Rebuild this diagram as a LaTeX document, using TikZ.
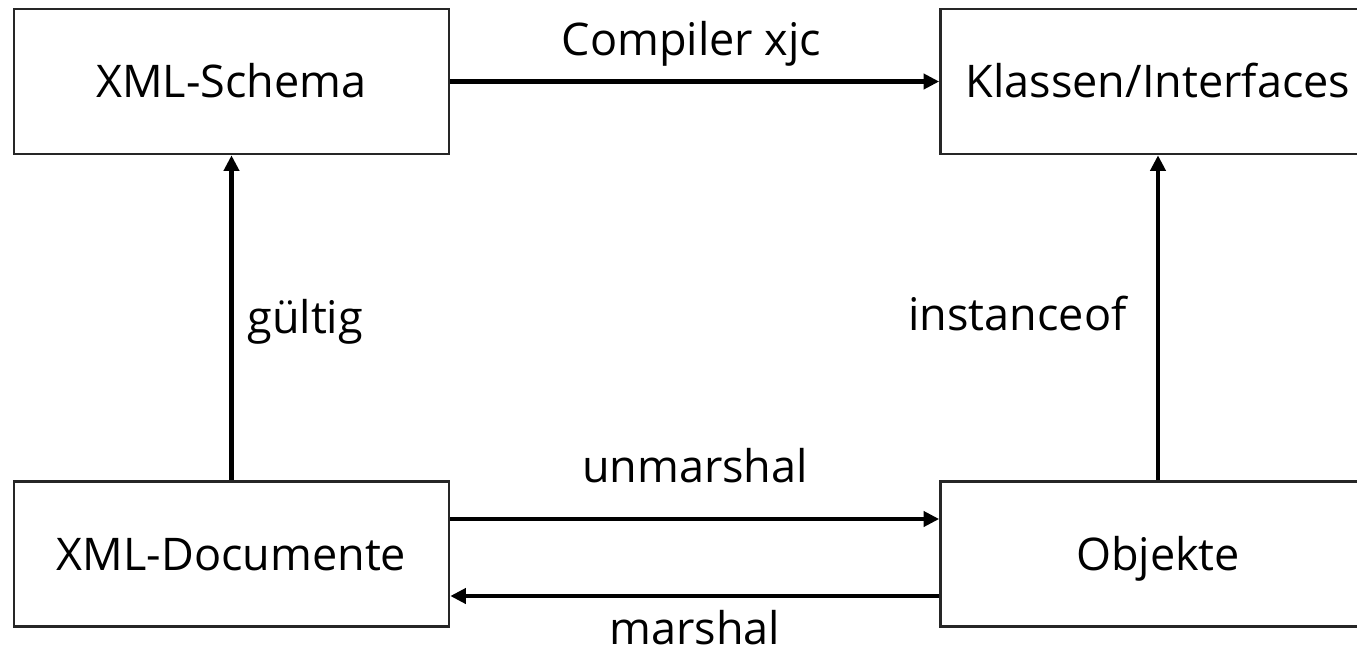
\documentclass[tikz,border=0pt]{standalone}
\usepackage{fontspec}
\setmainfont{Open Sans}
\usetikzlibrary{arrows.meta}
\begin{document}
\begin{tikzpicture}[x=0.5pt,y=-0.5pt,
  box/.style={draw=black!85,line width=1.3pt,rectangle,inner sep=0pt,
    minimum width=217.5pt,minimum height=72.5pt,
    font=\fontsize{22.5}{27}\selectfont,text height=16pt,text depth=0pt},
  lbl/.style={inner sep=0pt,anchor=base,font=\fontsize{22.5}{27}\selectfont},
  conn/.style={line width=2.4pt,-{Triangle[length=7.8pt,width=7.5pt]}}]
\clip (0,0) rectangle (1357,654);
\fill[white] (0,0) rectangle (1357,654);
\node[box] (schema) at (231.5,81.5) {XML-Schema};
\node[box] (klassen) at (1158,81.5) {Klassen/Interfaces};
\node[box] (docs) at (231.5,554) {XML-Documente};
\node[box] (obj) at (1158,554) {Objekte};
\draw[conn] (schema.east) -- (klassen.west);
\draw[conn] (docs.north) -- (schema.south);
\draw[conn] (obj.north) -- (klassen.south);
\draw[conn] ([yshift=17.5pt]docs.east) -- ([yshift=17.5pt]obj.west);
\draw[conn] ([yshift=-21pt]obj.west) -- ([yshift=-21pt]docs.east);
\node[lbl] (lc) at (691.5,55) {Compiler xjc};
\node[lbl] (lu) at (695,482) {unmarshal};
\node[lbl] (lm) at (695,644) {marshal};
\node[lbl,anchor=base west] (lg) at (247,333) {gültig};
\node[lbl,anchor=base east] (li) at (1127,330) {instanceof};
\end{tikzpicture}
\end{document}
